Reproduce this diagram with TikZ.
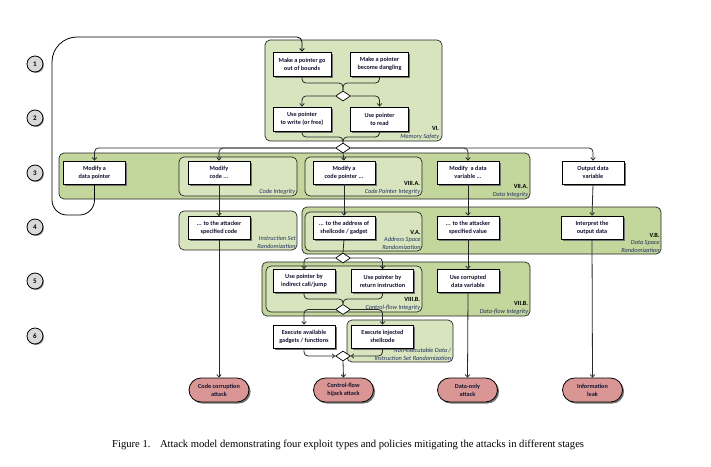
\documentclass[tikz,border=0pt]{standalone}
\usepackage{fontspec}
\setmainfont{Carlito}
\newfontfamily\capfont{Liberation Serif}
\usetikzlibrary{shapes.geometric,shapes.misc,arrows.meta,fit,shadows,calc}
\definecolor{gdark}{RGB}{195,214,155}
\definecolor{glight}{RGB}{215,228,189}
\definecolor{rose}{RGB}{217,150,148}
\definecolor{txt}{RGB}{20,20,50}
\definecolor{lbl}{RGB}{35,50,95}
\definecolor{ln}{RGB}{40,40,40}
\begin{document}
\begin{tikzpicture}[x=1pt,y=-1pt,
  shd/.style={drop shadow={shadow xshift=1.6pt,shadow yshift=-1.6pt,fill=black!55,opacity=1}},
  box/.style={draw=black,line width=0.8pt,fill=white,minimum width=62pt,minimum height=23pt,inner sep=1pt,align=center,font=\fontsize{6.2}{7.8}\selectfont\bfseries,text=txt,shd},
  sbox/.style={box,minimum width=58pt,minimum height=24pt},
  term/.style={rounded rectangle,draw=black,line width=0.8pt,fill=rose,minimum width=62pt,minimum height=24pt,inner sep=1pt,align=center,font=\fontsize{6.2}{7.8}\selectfont\bfseries,text=txt,shd},
  dia/.style={diamond,draw=black,line width=0.7pt,fill=white,minimum width=15pt,minimum height=10pt,inner sep=0pt},
  grpD/.style={draw=black!85,line width=0.7pt,fill=gdark,rounded corners=5pt,inner sep=0pt},
  grpL/.style={grpD,fill=glight},
  glabel/.style={align=right,inner sep=0pt,anchor=south east,font=\fontsize{6.3}{7.8}\selectfont,text=lbl},
  num/.style={circle,draw=black,line width=0.8pt,fill=black!15,minimum size=16pt,inner sep=0pt,font=\fontsize{7}{8}\selectfont\bfseries,drop shadow={shadow xshift=1pt,shadow yshift=-1pt,fill=black!40,opacity=1}},
  conn/.style={draw=ln,line width=0.8pt,rounded corners=4pt},
  arr/.style={conn,-{Straight Barb[length=2.5pt,width=4.5pt]}},
]
\useasboundingbox (0,0) rectangle (711,466);

% step numbers
\node[num] (n1) at (35,64) {1};
\node[num] (n2) at (35,118) {2};
\node[num] (n3) at (35,173) {3};
\node[num] (n4) at (35,227) {4};
\node[num] (n5) at (35,281) {5};
\node[num] (n6) at (35,336) {6};

% groups
\node[grpL,fit={(265,40) (442,141)}] (gMS) {};
\node[grpD,fit={(59,153) (530,199)}] (gDI) {};
\node[grpL,fit={(179,157) (297,196)}] (gCI) {};
\node[grpL,fit={(305,157) (422,196)}] (gCPI) {};
\node[grpL,fit={(179,211) (297,250)}] (gISR) {};
\node[grpD,fit={(302,207) (661,254)}] (gDSR) {};
\node[grpL,fit={(305,212) (422,251)}] (gASR) {};
\node[grpD,fit={(262,262) (530,316)}] (gDFI) {};
\node[grpL,fit={(266,266) (422,312)}] (gCFI) {};
\node[grpL,fit={(347,320) (453,362)}] (gNX) {};

% group labels
\node[glabel] (lMS) at ($(gMS.south east)+(-3,-2)$) {\textcolor{black}{\bfseries VI.}\\\itshape Memory Safety};
\node[glabel] (lDI) at ($(gDI.south east)+(-2,-2)$) {\textcolor{black}{\bfseries VII.A.}\\\itshape Data Integrity};
\node[glabel] (lCI) at ($(gCI.south east)+(-2,-2)$) {\itshape Code Integrity};
\node[glabel] (lCPI) at ($(gCPI.south east)+(-2,-2)$) {\textcolor{black}{\bfseries VIII.A.}\\\itshape Code Pointer Integrity};
\node[glabel] (lISR) at ($(gISR.south east)+(-1.5,-1.5)$) {\itshape Instruction Set\\\itshape Randomization};
\node[glabel] (lDSR) at ($(gDSR.south east)+(-1.5,-1.5)$) {\textcolor{black}{\bfseries V.B.}\\\itshape Data Space\\\itshape Randomization};
\node[glabel] (lASR) at ($(gASR.south east)+(-1.5,-1.5)$) {\textcolor{black}{\bfseries V.A.}\\\itshape Address Space\\\itshape Randomization};
\node[glabel] (lDFI) at ($(gDFI.south east)+(-2,-2)$) {\textcolor{black}{\bfseries VII.B.}\\\itshape Data-flow Integrity};
\node[glabel] (lCFI) at ($(gCFI.south east)+(-2,-2)$) {\textcolor{black}{\bfseries VIII.B.}\\\itshape Control-flow Integrity};
\node[glabel] (lNX) at ($(gNX.south east)+(-2,-2)$) {\itshape Non-executable Data /\\\itshape Instruction Set Randomization};

% stage 1-2
\node[sbox] (b11) at (302,64) {Make a pointer go\\out of bounds};
\node[sbox] (b12) at (379.5,64) {Make a pointer\\become dangling};
\node[sbox] (b21) at (302,119) {Use pointer\\to write (or free)};
\node[sbox] (b22) at (379.5,119) {Use pointer\\to read};
\node[dia] (d1) at (343,96) {};
\node[dia] (d2) at (343,148) {};

% stage 3
\node[box] (b31) at (94.5,172.5) {Modify a\\data pointer};
\node[box] (b32) at (219,172.5) {Modify\\code ...};
\node[box] (b33) at (344,172.5) {Modify a\\code pointer ...};
\node[box] (b34) at (468,172.5) {Modify~ a data\\variable ...};
\node[box] (b35) at (593,172.5) {Output data\\variable};

% stage 4
\node[box] (b42) at (219,228) {... to the attacker\\specified code};
\node[box] (b43) at (344,227.5) {... to the address of\\shellcode / gadget};
\node[box] (b44) at (468,227.5) {... to the attacker\\specified value};
\node[box] (b45) at (592,227.5) {Interpret the\\output data};
\node[dia] (d3) at (343,258) {};

% stage 5
\node[box] (b51) at (304,281) {Use pointer by\\indirect call/jump};
\node[box] (b52) at (382.5,281) {Use pointer by\\return instruction};
\node[box] (b53) at (468,281) {Use corrupted\\data variable};
\node[dia] (d4) at (343,309.5) {};

% stage 6
\node[box] (b61) at (304,336.5) {Execute available\\gadgets / functions};
\node[box] (b62) at (382.5,336.5) {Execute injected\\shellcode};
\node[dia] (d5) at (343,356) {};

% attacks
\node[term] (t1) at (219,390) {Code corruption\\attack};
\node[term] (t2) at (343.5,390) {Control-flow\\hijack attack};
\node[term] (t3) at (467.5,390) {Data-only\\attack};
\node[term] (t4) at (592.5,390) {Information\\leak};

% connectors
\draw[arr,draw=black,rounded corners=15pt] (b31.south) -- (94.5,215) -- (52,215) [rounded corners=25pt] -- (52,37) [rounded corners=5pt] -- (302,37) -- (b11.north);

\draw[conn] (b11.south) -- (302,83) -- (343,83) -- (d1.north);
\draw[conn] (b12.south) -- (379.5,83) -- (343,83) -- (d1.north);
\draw[arr] (d1.west) -| (b21.north);
\draw[arr] (d1.east) -| (b22.north);
\draw[conn] (b21.south) -- (302,137) -- (343,137) -- (d2.north);
\draw[conn] (b22.south) -- (379.5,137) -- (343,137) -- (d2.north);

\draw[arr] (d2.west) -| (b31.north);
\draw[arr] (d2.west) -| (b32.north);
\draw[arr] (d2.south) -- (b33.north);
\draw[arr] (d2.east) -| (b34.north);
\draw[arr] (d2.east) -| (b35.north);

\draw[arr] (b32.south) -- (b42.north);
\draw[arr] (b33.south) -- (b43.north);
\draw[arr] (b34.south) -- (b44.north);
\draw[arr] (b35.south) -- (b45.north);

\draw[arr] (b42.south) -- (t1.north);
\draw[conn] (b43.south) -- (d3.north);
\draw[arr] (d3.west) -| (b51.north);
\draw[arr] (d3.east) -| (b52.north);
\draw[arr] (b44.south) -- (b53.north);
\draw[arr] (b53.south) -- (t3.north);
\draw[arr] (b45.south) -- (t4.north);

\draw[conn] (b51.south) -- (304,299) -- (343,299) -- (d4.north);
\draw[conn] (b52.south) -- (382.5,299) -- (343,299) -- (d4.north);
\draw[arr] (d4.west) -| (b61.north);
\draw[arr] (d4.east) -| (b62.north);
\draw[arr] (b61.south) |- (d5.west);
\draw[arr] (b62.south) |- (d5.east);
\draw[arr] (d5.south) -- (t2.north);

% caption
\node[anchor=west,inner sep=0pt,font=\capfont\fontsize{10.6}{12}\selectfont] (cap) at (112,445) {Figure 1.\hspace{0.9em}Attack model demonstrating four exploit types and policies mitigating the attacks in different stages};
\end{tikzpicture}
\end{document}
